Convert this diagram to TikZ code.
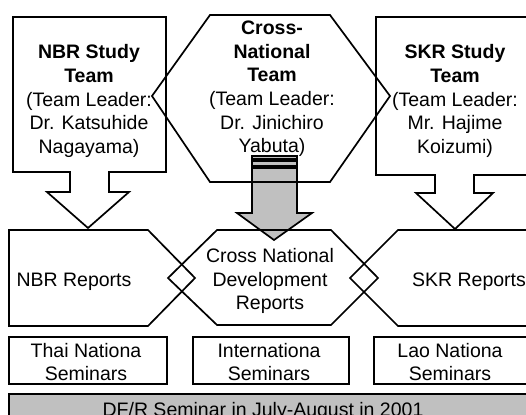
\documentclass[tikz,border=0pt]{standalone}
\usepackage{fontspec}
\setmainfont{Liberation Sans}
\usepackage{tikz}
\usetikzlibrary{positioning}
\definecolor{arrowgray}{RGB}{192,192,192}
\definecolor{bargray}{RGB}{192,192,192}

\begin{document}
\begin{tikzpicture}[
  x=1pt, y=-1pt,
  outline/.style={draw, line width=1.7pt, line join=miter},
  txt/.style={font=\fontsize{19.5}{23.6}\selectfont, align=center, inner sep=0pt},
]
\clip (0,0) rectangle (526,414);
% striped arrow from the cross-national team
\draw[outline, line width=1.3pt, fill=arrowgray] (252,156) rectangle (297,159);
\draw[outline, line width=1.3pt, fill=arrowgray] (252,161) rectangle (297,166);
\draw[outline, fill=arrowgray] (252,168) -- (297,168) -- (297,213) -- (312,213)
  -- (274,240) -- (237,213) -- (252,213) -- cycle;
% study teams
\draw[outline] (13,17) -- (166,17) -- (166,172) -- (109,172) -- (109,192) -- (129,192)
  -- (88,228) -- (47,192) -- (70,192) -- (70,172) -- (13,172) -- cycle;
\draw[outline] (152,96) -- (210,15) -- (330,15) -- (390,96) -- (330,182) -- (210,182) -- cycle;
\draw[outline] (376,17) -- (540,17) -- (540,175) -- (474,175) -- (474,193) -- (493,193)
  -- (455,229) -- (416,193) -- (435,193) -- (435,175) -- (376,175) -- cycle;
% reports
\draw[outline] (9,230) -- (148,230) -- (195,278) -- (148,326) -- (9,326) -- cycle;
\draw[outline] (168,278) -- (217,230) -- (331,230) -- (378,278) -- (331,325) -- (217,325) -- cycle;
\draw[outline] (350,278) -- (398,230) -- (540,230) -- (540,326) -- (398,326) -- cycle;
% seminars
\draw[outline] (9,337) rectangle (167,384);
\draw[outline] (193,337) rectangle (349,384);
\draw[outline] (374,337) rectangle (540,384);
\draw[outline, fill=bargray] (9,394) rectangle (540,440);

\node[txt] (nbrteam) at (89,101)
  {\textbf{NBR Study}\\\textbf{Team}\\(Team Leader:\\Dr. Katsuhide\\Nagayama)};
\node[txt] (crossteam) at (272,89)
  {\textbf{Cross-}\\\textbf{National}\\\textbf{Team}\\(Team Leader:\\Dr. Jinichiro\\Yabuta)};
\node[txt] (skrteam) at (455,101)
  {\textbf{SKR Study}\\\textbf{Team}\\(Team Leader:\\Mr. Hajime\\Koizumi)};
\node[txt] (nbrrep) at (74,282) {NBR Reports};
\node[txt] (crossrep) at (270,281) {Cross National\\Development\\Reports};
\node[txt] (skrrep) at (469,282) {SKR Reports};
\node[txt] (thaisem) at (86,362) {Thai Nationa\\Seminars};
\node[txt] (intlsem) at (269,362) {Internationa\\Seminars};
\node[txt] (laosem) at (450,362) {Lao Nationa\\Seminars};
\node[txt] (dfr) at (263,411) {DF/R Seminar in July-August in 2001};
\end{tikzpicture}
\end{document}
